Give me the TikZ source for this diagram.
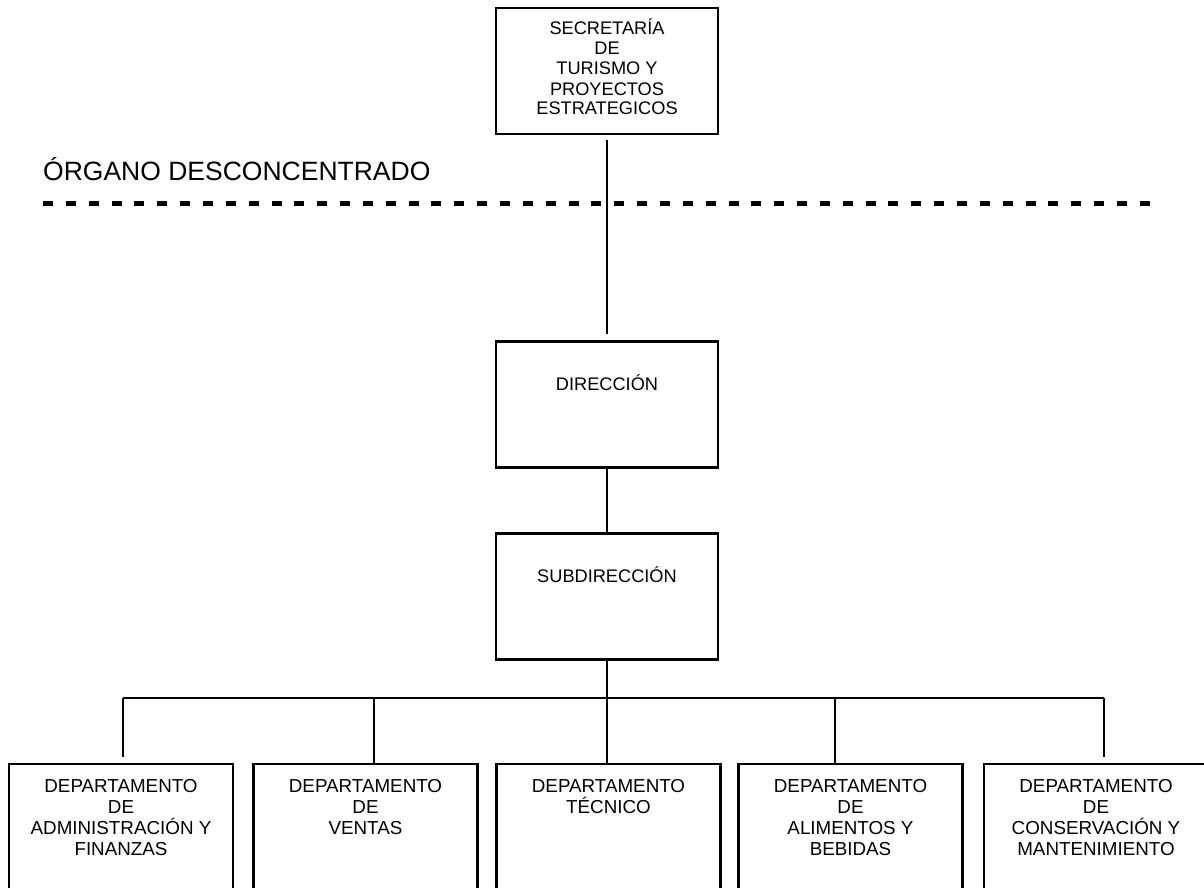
\documentclass[tikz,border=0pt]{standalone}
\usepackage{fontspec}
\setmainfont{Liberation Sans}
\usepackage{tikz}
\definecolor{Black}{RGB}{0,0,0}
\definecolor{White}{RGB}{255,255,255}

\begin{document}
\begin{tikzpicture}[x=1pt, y=-1pt,
	box/.style={draw=Black, line width=2.2pt, minimum width=222pt, minimum height=126pt, inner sep=0pt},
	depbox/.style={box, minimum width=224pt, minimum height=160pt},
	txt/.style={align=center, inner sep=0pt, anchor=base, font=\fontsize{18.2}{20}\selectfont},
	deptxt/.style={txt, font=\fontsize{18.8}{21}\selectfont},
	conn/.style={draw=Black, line width=1.3pt},
	dashline/.style={draw=Black, line width=5pt, dash pattern=on 10pt off 12.85pt}]
		
		\useasboundingbox [fill=White] (0,0) rectangle (1204,888);
		\clip (0,0) rectangle (1204,888);
		
		% Boxes
		\node[box] (sec) at (607,71) {};
		\node[box] (dir) at (607,404.5) {};
		\node[box] (sub) at (607,596.5) {};
		
		\node[depbox] (d1) at (121,844) {};
		\node[depbox] (d2) at (365.5,844) {};
		\node[depbox] (d3) at (608.5,844) {};
		\node[depbox] (d4) at (850.5,844) {};
		\node[depbox] (d5) at (1096,844) {};
		
		% Dashed line
		\coordinate (dashL) at (43,203);
		\coordinate (dashR) at (1150,203);
		\draw[dashline] (dashL) -- (dashR);
		
		% Lines
		\draw[conn, shorten <=5pt, shorten >=6pt] (sec.south) -- (dir.north);
		\draw[conn] (dir.south) -- (sub.north);
		\coordinate (t1) at (123,698);
		\coordinate (t2) at (374,698);
		\coordinate (t3) at (607,698);
		\coordinate (t4) at (835,698);
		\coordinate (t5) at (1104,698);
		\draw[conn] (sub.south) -- (t3);
		\draw[conn] (t1) -- (t5);
		\draw[conn, shorten >=6pt] (t1) -- (t1 |- d1.north);
		\draw[conn] (t2) -- (t2 |- d2.north);
		\draw[conn] (t3) -- (t3 |- d3.north);
		\draw[conn] (t4) -- (t4 |- d4.north);
		\draw[conn, shorten >=6pt] (t5) -- (t5 |- d5.north);
		
		% Text (anchored at the baseline of the last line)
		\node[anchor=base west, inner sep=0pt, font=\fontsize{26.5}{30}\selectfont] (organo) at (43,180) {ÓRGANO DESCONCENTRADO};
		
		\node[txt] (secT) at (607,115) {SECRETARÍA\\DE\\TURISMO Y\\PROYECTOS\\ESTRATEGICOS};
		\node[txt] (dirT) at (607,390) {DIRECCIÓN};
		\node[txt] (subT) at (607,582) {SUBDIRECCIÓN};
		
		\node[deptxt] (d1T) at (121,855) {DEPARTAMENTO\\DE\\ADMINISTRACIÓN Y\\FINANZAS};
		\node[deptxt] (d2T) at (365.5,834) {DEPARTAMENTO\\DE\\VENTAS};
		\node[deptxt] (d3T) at (608.5,813) {DEPARTAMENTO\\TÉCNICO};
		\node[deptxt] (d4T) at (850.5,855) {DEPARTAMENTO\\DE\\ALIMENTOS Y\\BEBIDAS};
		\node[deptxt] (d5T) at (1096,855) {DEPARTAMENTO\\DE\\CONSERVACIÓN Y\\MANTENIMIENTO};
		
	\end{tikzpicture}
\end{document}
